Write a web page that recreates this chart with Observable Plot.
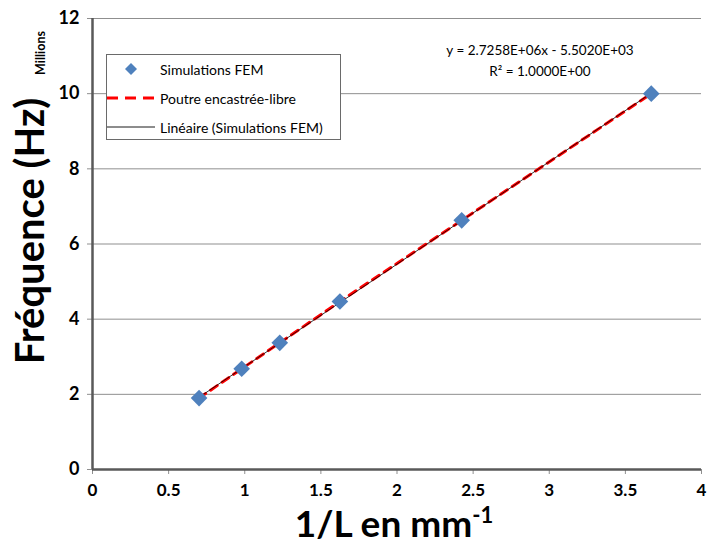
<!DOCTYPE html>
<html>
<head>
<meta charset="utf-8">
<script src="https://cdn.jsdelivr.net/npm/d3@7"></script>
<script src="https://cdn.jsdelivr.net/npm/@observablehq/plot@0.6"></script>
<style>
  body { margin: 0; background: #fff; }
  #wrap { position: relative; width: 707px; height: 543px; font-family: Lato, "Open Sans", sans-serif; overflow: hidden; }
  #wrap svg { position: absolute; left: 0; top: 0; }
  .ov { position: absolute; color: #000; white-space: nowrap; }
  #legend { left: 106px; top: 54px; width: 233px; height: 84px; border: 1px solid #6a6a6a; background: #fff; font-size: 14px; }
  .row { position: absolute; left: 0; height: 20px; display: flex; align-items: center; }
  .row svg { position: static !important; }
  .row span { position: absolute; left: 53px; }
  #eq { left: 440px; top: 40px; width: 200px; text-align: center; font-size: 13.5px; line-height: 21px; }
  #ytitle { left: 29px; top: 231px; transform: translate(-50%, -50%) rotate(-90deg); font-size: 40px; line-height: 0.9; font-weight: bold; }
  #xtitle { left: 394px; top: 523px; transform: translate(-50%, -50%); font-size: 37px; line-height: 0.75; font-weight: bold; }
  #xtitle .sup { font-size: 22px; position: relative; top: -14px; line-height: 0; }
  #millions { left: 41px; top: 53px; transform: translate(-50%, -50%) rotate(-90deg); font-size: 12.5px; line-height: 1; font-weight: bold; }
</style>
</head>
<body>
<div id="wrap"></div>
<script>
// Data
const invL = [0.70, 0.98, 1.23, 1.625, 2.425, 3.67];          // 1/L (mm^-1)
const femFreq = [1.90, 2.68, 3.37, 4.47, 6.63, 10.0];          // Simulations FEM (millions Hz)
const beamFreq = [1.90, 2.68, 3.37, 4.47, 6.63, 10.0];         // Poutre encastrée-libre (millions Hz)
const xTicks = [0, 0.5, 1, 1.5, 2, 2.5, 3, 3.5, 4];
const yTicks = [0, 2, 4, 6, 8, 10, 12];
const seriesNames = ["Simulations FEM", "Poutre encastrée-libre", "Linéaire (Simulations FEM)"];
const equationText = ["y = 2.7258E+06x - 5.5020E+03", "R² = 1.0000E+00"];

const fem = invL.map((x, i) => ({x, y: femFreq[i]}));
const beam = invL.map((x, i) => ({x, y: beamFreq[i]}));

const plot = Plot.plot({
  width: 707,
  height: 543,
  marginLeft: 92,
  marginRight: 6,
  marginTop: 18,
  marginBottom: 74,
  style: {fontFamily: "Lato, 'Open Sans', sans-serif", background: "transparent"},
  x: {domain: [0, 4]},
  y: {domain: [0, 12]},
  marks: [
    Plot.gridY(yTicks, {stroke: "#8f8f8f", strokeOpacity: 1, strokeWidth: 1}),
    Plot.axisX(xTicks, {tickFormat: d => String(d), fontSize: 17, fontWeight: "bold", fill: "#000", tickSize: 5, tickPadding: 9, stroke: "#8f8f8f", label: null}),
    Plot.axisY(yTicks, {tickFormat: d => String(d), fontSize: 18, fontWeight: "bold", fill: "#000", tickSize: 5, tickPadding: 8, stroke: "#8f8f8f", label: null}),
    Plot.ruleX([0], {stroke: "#595959", strokeWidth: 2.5}),
    Plot.ruleY([0], {stroke: "#595959", strokeWidth: 2.5}),
    Plot.line(beam, {x: "x", y: "y", stroke: "#ff0000", strokeWidth: 3, strokeDasharray: "8,6"}),
    Plot.linearRegressionY(fem, {x: "x", y: "y", stroke: "#000", strokeWidth: 0.8, ci: 0}),
    Plot.dot(fem, {x: "x", y: "y", symbol: "diamond2", r: 7.5, fill: "#4f81bd", stroke: "none"})
  ]
});

const wrap = document.getElementById("wrap");
wrap.appendChild(plot);

function ov(id, html) {
  const d = document.createElement("div");
  d.className = "ov";
  d.id = id;
  d.innerHTML = html;
  wrap.appendChild(d);
  return d;
}

ov("millions", "Millions");
ov("ytitle", "Fréquence (Hz)");
ov("xtitle", "1/L en mm<span class=\"sup\">-1</span>");
ov("eq", equationText.join("<br>"));

const legendSymbols = [
  '<svg width="50" height="20"><path d="M24,4 L30,10 L24,16 L18,10 Z" fill="#4f81bd"/></svg>',
  '<svg width="50" height="20"><line x1="0" y1="10" x2="50" y2="10" stroke="#ff0000" stroke-width="3" stroke-dasharray="11,7"/></svg>',
  '<svg width="50" height="20"><line x1="0" y1="10" x2="48" y2="10" stroke="#000" stroke-width="0.9"/></svg>'
];
ov("legend", seriesNames.map((n, i) =>
  `<div class="row" style="top:${4 + i * 29}px">${legendSymbols[i]}<span>${n}</span></div>`
).join(""));
</script>
</body>
</html>
